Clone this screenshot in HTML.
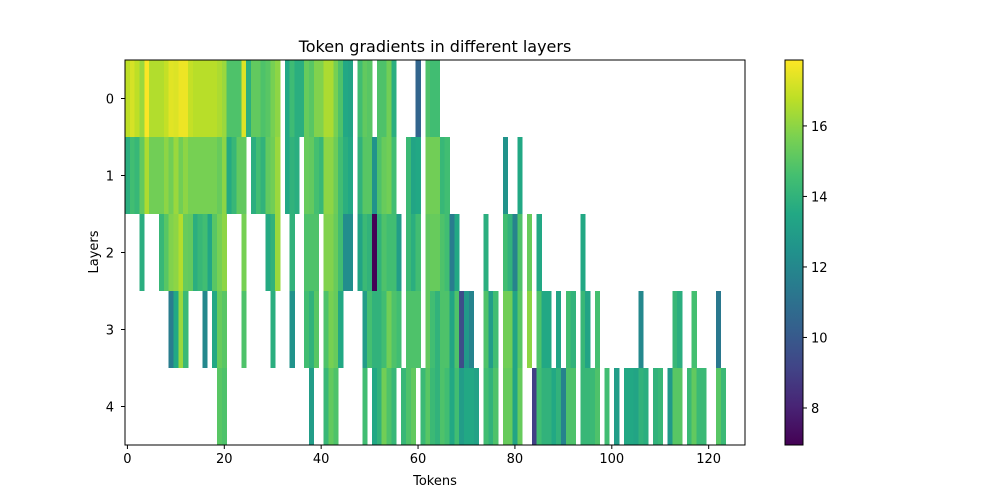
<!DOCTYPE html>
<html><head><meta charset="utf-8"><style>body{margin:0;background:#fff}svg{display:block;font-family:"DejaVu Sans","Liberation Sans",sans-serif}</style></head>
<body>
<svg id="chart" width="1000" height="500" viewBox="0 0 1000 500" xmlns="http://www.w3.org/2000/svg">
<text x="435" y="52" text-anchor="middle" font-size="16">Token gradients in different layers</text>
<g id="cells"></g>
<rect x="125" y="60" width="620" height="385" fill="none" stroke="#000" stroke-width="1"/>
<g id="xaxis"></g>
<g id="yaxis"></g>
<text x="435" y="485" text-anchor="middle" font-size="13">Tokens</text>
<text transform="translate(98,252) rotate(-90)" text-anchor="middle" font-size="13">Layers</text>
<defs><linearGradient id="cbgrad" x1="0" y1="1" x2="0" y2="0"></linearGradient></defs>
<rect x="785" y="60" width="18" height="385" fill="url(#cbgrad)" stroke="#000" stroke-width="1"/>
<g id="cbaxis"></g>
</svg>
<script>
const layerLabels = [0,1,2,3,4];
const xTicks = [0,20,40,60,80,100,120];
const cbTicks = [8,10,12,14,16];
const vmin = 6.95, vmax = 17.87;
const nTokens = 128;
// [token index, value]
const layer0 = [[0,16.8],[1,17.2],[2,16.8],[3,16.2],[4,17.8],[5,16.6],[6,16.6],[7,16.6],[8,16.9],[9,17.4],[10,17.3],[11,17.6],[12,17.6],[13,16.9],[14,16.7],[15,16.7],[16,16.7],[17,16.7],[18,16.7],[19,16.5],[20,16.2],[21,14.8],[22,14.8],[23,14.8],[24,17.3],[25,13.8],[26,15.2],[27,15.2],[28,14.8],[29,15.0],[30,15.6],[31,16.0],[33,13.5],[34,14.4],[35,13.8],[36,13.8],[37,15.3],[38,15.0],[39,15.8],[40,15.8],[41,16.5],[42,16.5],[43,15.6],[44,14.8],[45,13.5],[46,13.3],[48,14.5],[49,15.2],[50,15.0],[52,14.8],[53,14.8],[54,15.5],[55,13.8],[60,10.5],[62,14.8],[63,14.5],[64,14.5]];
const layer1 = [[0,13.8],[1,14.5],[2,14.2],[3,15.2],[4,16.5],[5,15.5],[6,15.5],[7,15.5],[8,16.0],[9,15.5],[10,16.2],[11,15.5],[12,16.0],[13,15.6],[14,15.6],[15,15.6],[16,15.6],[17,15.6],[18,15.6],[19,15.3],[20,16.0],[21,13.6],[22,14.2],[23,15.2],[24,15.2],[26,13.8],[27,14.5],[28,14.0],[29,15.2],[30,15.5],[31,16.2],[33,13.5],[34,14.0],[35,13.8],[37,15.3],[38,15.2],[39,14.6],[40,14.2],[41,16.0],[42,16.0],[43,15.4],[44,14.5],[45,13.8],[46,13.5],[48,14.0],[49,15.0],[50,15.0],[51,12.5],[52,14.8],[53,15.3],[54,15.5],[55,14.5],[58,14.3],[59,13.3],[60,13.5],[62,15.5],[63,15.5],[64,15.5],[65,14.2],[66,14.5],[78,12.5],[81,13.5]];
const layer2 = [[3,13.8],[7,14.2],[8,15.0],[9,15.8],[10,16.0],[11,16.6],[12,15.3],[13,15.2],[14,13.8],[15,14.2],[16,14.5],[17,13.4],[18,15.0],[19,15.6],[20,16.0],[24,15.6],[29,13.6],[30,14.0],[31,16.2],[34,14.0],[37,14.8],[38,14.8],[39,14.8],[41,15.8],[42,15.8],[43,15.3],[44,14.5],[45,12.3],[46,12.3],[48,13.3],[49,14.3],[50,14.0],[51,7.0],[52,14.0],[53,14.8],[54,14.5],[55,14.5],[56,13.0],[58,14.3],[59,13.8],[60,14.5],[62,15.2],[63,15.3],[64,15.3],[65,14.8],[66,14.5],[67,11.5],[68,13.5],[74,13.8],[78,14.5],[79,14.0],[80,11.8],[81,14.8],[83,15.3],[85,13.5],[94,13.5]];
const layer3 = [[9,11.5],[10,13.5],[11,16.2],[12,14.3],[16,12.0],[18,13.5],[19,15.3],[20,15.0],[24,14.8],[30,13.8],[34,12.5],[37,14.5],[38,14.0],[39,15.0],[41,14.8],[42,15.6],[43,15.3],[44,13.5],[49,13.0],[50,14.6],[51,14.0],[52,14.0],[53,14.5],[54,15.5],[55,14.8],[56,14.5],[58,14.8],[59,14.8],[60,14.8],[62,15.2],[63,14.5],[64,14.0],[65,14.8],[66,14.8],[67,13.3],[68,14.8],[69,9.5],[70,12.8],[71,11.8],[74,14.8],[75,13.0],[76,14.5],[78,15.5],[79,15.5],[80,13.3],[81,15.0],[83,16.0],[85,14.8],[86,13.5],[87,13.5],[89,13.3],[91,14.5],[92,14.0],[94,14.2],[95,13.3],[97,14.6],[106,12.0],[113,14.2],[114,13.8],[117,14.6],[122,11.3]];
const layer4 = [[19,15.0],[20,14.8],[38,13.0],[41,14.2],[42,15.2],[43,14.8],[49,14.5],[51,13.5],[52,14.0],[53,15.5],[54,14.8],[55,14.2],[57,14.2],[58,14.8],[59,15.2],[61,14.3],[62,15.0],[63,14.3],[64,14.0],[65,14.8],[66,14.5],[67,13.5],[68,14.5],[69,13.0],[70,13.5],[71,13.5],[72,13.2],[74,14.5],[75,14.0],[76,14.8],[78,15.3],[79,15.3],[80,13.3],[81,15.3],[84,9.0],[85,14.5],[86,14.0],[87,14.0],[88,13.5],[89,14.0],[90,11.8],[91,14.8],[92,14.8],[94,14.2],[95,14.2],[96,14.3],[97,14.8],[99,14.5],[101,13.0],[103,13.5],[104,13.5],[105,13.3],[106,14.0],[107,13.8],[109,14.0],[110,14.2],[112,12.8],[113,15.0],[114,15.0],[116,14.3],[117,15.2],[118,14.3],[119,14.3],[122,15.0],[123,14.3]];
const layers = [layer0, layer1, layer2, layer3, layer4];

const NS = "http://www.w3.org/2000/svg";
const PX = 125, PY = 60, PW = 620, PH = 385;
const xScale = v => PX + (v + 0.5) / nTokens * PW;
const yScale = r => PY + (r + 0.5) / layerLabels.length * PH;
const cbScale = v => PY + PH - (v - vmin) / (vmax - vmin) * PH;
const vir = ["#440154","#482475","#414487","#355f8d","#2a788e","#21918c","#22a884","#44bf70","#7ad151","#bddf26","#fde725"];
function hex(h){return [1,3,5].map(i=>parseInt(h.substr(i,2),16));}
function color(v){
  let t = Math.max(0, Math.min(1, (v - vmin) / (vmax - vmin))) * 10;
  const i = Math.min(9, Math.floor(t)), f = t - i;
  const a = hex(vir[i]), b = hex(vir[i+1]);
  return "rgb(" + a.map((c,k)=>Math.round(c + (b[k]-c)*f)).join(",") + ")";
}
function mk(tag, attrs, parent){const e=document.createElementNS(NS,tag);for(const k in attrs)e.setAttribute(k,attrs[k]);parent.appendChild(e);return e;}

const cells = document.getElementById("cells");
const cw = PW / nTokens, ch = PH / layerLabels.length;
layers.forEach((row, r) => {
  row.forEach(([i, v]) => {
    const el = mk("rect", {x: xScale(i) - cw/2, y: yScale(r) - ch/2, width: cw + 0.3, height: ch, fill: color(v), "shape-rendering": "crispEdges"}, cells);
    
    
  });
});

const xa = document.getElementById("xaxis");
xTicks.forEach(t => {
  const x = xScale(t);
  const l = mk("line", {x1: x, x2: x, y1: PY+PH, y2: PY+PH+4, stroke: "#000"}, xa);
  
  
  const tx = mk("text", {x: x, y: PY+PH+18, "text-anchor": "middle", "font-size": "13"}, xa);
  tx.textContent = t;
  
  
});
const ya = document.getElementById("yaxis");
layerLabels.forEach((t, r) => {
  const y = yScale(r);
  const l = mk("line", {x1: PX-4, x2: PX, y1: y, y2: y, stroke: "#000"}, ya);
  
  
  const tx = mk("text", {x: PX-11, y: y+5, "text-anchor": "end", "font-size": "13"}, ya);
  tx.textContent = t;
  
  
});
const grad = document.getElementById("cbgrad");
vir.forEach((c, i) => mk("stop", {offset: (i*10)+"%", "stop-color": c}, grad));
const ca = document.getElementById("cbaxis");
cbTicks.forEach(t => {
  const y = cbScale(t);
  const l = mk("line", {x1: 803, x2: 807, y1: y, y2: y, stroke: "#000"}, ca);
  
  
  const tx = mk("text", {x: 811, y: y+5, "font-size": "13"}, ca);
  tx.textContent = t;
  
  
});
</script>
</body></html>
